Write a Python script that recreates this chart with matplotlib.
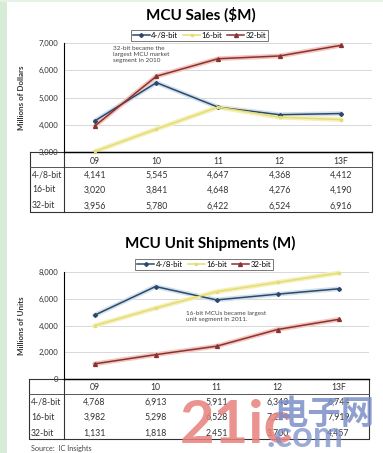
import matplotlib
matplotlib.use("Agg")
import matplotlib.pyplot as plt

plt.rcParams['font.family'] = ['Lato', 'DejaVu Sans']

# data ---------------------------------------------------------------
years = ["09", "10", "11", "12", "13F"]
series = ["4-/8-bit", "16-bit", "32-bit"]

sales_48 = [4141, 5545, 4647, 4368, 4412]
sales_16 = [3020, 3841, 4648, 4276, 4190]
sales_32 = [3956, 5780, 6422, 6524, 6916]

units_48 = [4768, 6913, 5911, 6343, 6744]
units_16 = [3982, 5298, 6528, 7224, 7919]
units_32 = [1131, 1818, 2451, 3700, 4457]

sales_ticks = [3000, 4000, 5000, 6000, 7000]
units_ticks = [0, 2000, 4000, 6000, 8000]

colors = ["#2a4a6c", "#e4dc78", "#8a3232"]
glow = ["#d3e0ec", "#f5f0b8", "#f3c6be"]
markers = ["D", "s", "^"]
msizes = [2.0, 1.6, 2.8]

W, H = 383, 453
fig = plt.figure(figsize=(W / 100, H / 100), dpi=100)
fig.patch.set_facecolor("white")

# overlay axes in pixel coords for table/text
ov = fig.add_axes([0, 0, 1, 1], zorder=0)
ov.set_xlim(0, W)
ov.set_ylim(H, 0)
ov.axis("off")
ov.add_patch(plt.Rectangle((0, 0), 7, H, color="#d6ecd6", lw=0))
ov.add_patch(plt.Rectangle((0, 0), W, 2, color="#e6f2e6", lw=0))


def pix_axes(x0, y0, x1, y1):
    return fig.add_axes([x0 / W, 1 - y1 / H, (x1 - x0) / W, (y1 - y0) / H], zorder=2)


def panel(vals, ticks, top, bot, title, tx, ty, leg_x, ylabel, tbl, note, note_xy,
          tbl_left, tbl_right):
    ax = pix_axes(64, top, tbl_right, bot)
    ax.patch.set_alpha(0)
    ax.set_xlim(-0.5, 4.5)
    ax.set_ylim(ticks[0], ticks[-1])
    ax.set_yticks(ticks)
    ax.set_yticklabels([f"{t:,}" for t in ticks], fontsize=5.6, color="#333333")
    ax.set_xticks([])
    for s in ["top", "right"]:
        ax.spines[s].set_visible(False)
    ax.spines["left"].set_linewidth(0.8)
    ax.spines["bottom"].set_linewidth(1.0)
    ax.tick_params(axis="y", length=0, pad=4)
    for t in ticks[1:]:
        ax.axhline(t, color="#d2d2d2", lw=0.6, zorder=0)
    xs = range(len(years))
    handles = []
    for v, c, g, m, ms, name in zip(vals, colors, glow, markers, msizes, series):
        ax.plot(xs, v, color=g, lw=3.4, solid_capstyle="round", clip_on=False, zorder=2)
        h, = ax.plot(xs, v, color=c, lw=1.1, marker=m, ms=ms, mec=c, mfc=c,
                     clip_on=False, label=name, zorder=3)
        handles.append(h)
    leg = ax.legend(handles=handles, loc="lower center", bbox_to_anchor=(leg_x, 1.0),
                    ncol=3, fontsize=5.6, frameon=True, fancybox=False,
                    handlelength=2.2, handletextpad=0.2, columnspacing=0.6,
                    borderpad=0.25, borderaxespad=0.3)
    leg.get_frame().set_edgecolor("#555555")
    leg.get_frame().set_linewidth(0.7)
    fig.text(tx / W, 1 - ty / H, title, ha="center", va="center",
             fontsize=11, fontweight="bold")
    fig.text(22 / W, 1 - (top + bot) / 2 / H, ylabel, rotation=90, ha="center",
             va="center", fontsize=5.8, fontweight="bold", color="#333333")
    ax.text(note_xy[0], note_xy[1], note, fontsize=4.6, color="#444444",
            va="top", ha="left", linespacing=1.25)

    # table under the chart
    rows_y = [bot + 9, bot + 23, bot + 38, bot + 54]
    tb_bot = bot + 60
    colw = (tbl_right - 64) / len(years)
    ov.plot([tbl_left, tbl_right, tbl_right, tbl_left, tbl_left],
            [bot, bot, tb_bot, tb_bot, bot], color="#333333", lw=0.8)
    ov.plot([tbl_left, tbl_right], [bot + 15, bot + 15], color="#555555", lw=0.7)
    ov.plot([64, 64], [bot, tb_bot], color="#333333", lw=0.8)
    for i, yr in enumerate(years):
        cx = 64 + colw * (i + 0.5)
        ov.text(cx, rows_y[0], yr, ha="center", va="center", fontsize=6.2, color="#333333")
        for r in range(3):
            ov.text(cx, rows_y[r + 1], f"{tbl[r][i]:,}", ha="center", va="center",
                    fontsize=6.3, color="#333333")
    for r, name in enumerate(series):
        ov.text(tbl_left + 2, rows_y[r + 1], name, ha="left", va="center",
                fontsize=6.2, color="#333333")


sales = [sales_48, sales_16, sales_32]
units = [units_48, units_16, units_32]

panel(sales, sales_ticks, 43, 152, "MCU Sales ($M)", 201, 15, 0.44, "Millions of Dollars",
      sales, "32-bit became the\nlargest MCU market\nsegment in 2010", (0.3, 6880), 30, 372)
panel(units, units_ticks, 272, 379, "MCU Unit Shipments (M)", 210, 243, 0.46,
      "Millions of Units", units, "16-bit MCUs became largest\nunit segment in 2011.",
      (1.5, 5050), 29, 369)

ov.text(31, 448, "Source:  IC Insights", fontsize=5.2, color="#444444", va="center")

# watermark
ov.text(180, 453, "21ic", fontsize=43, fontweight="bold", color="#e8807c", alpha=0.85,
        va="bottom", ha="left", zorder=5)
ov.text(274, 414, "电子网", fontsize=24, color="#7b8fc8", alpha=0.85,
        family=["Noto Sans CJK SC", "DejaVu Sans"], fontweight="bold", va="center", zorder=5)
ov.text(266, 453, ".com", fontsize=26, color="#7b8fc8", alpha=0.75, fontweight="bold",
        va="bottom", zorder=5)

fig.savefig("out.png", dpi=100)
